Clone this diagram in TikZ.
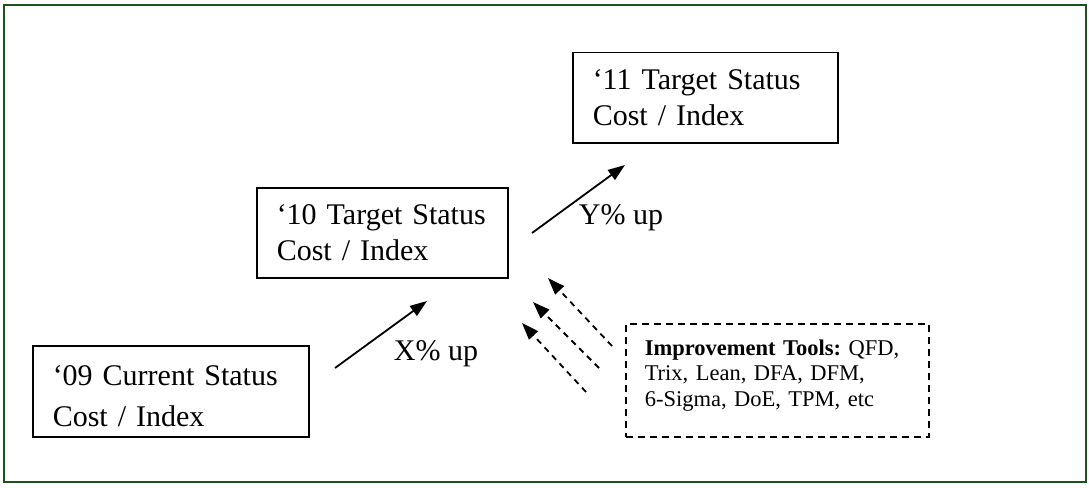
\documentclass[tikz,border=0pt]{standalone}
\usepackage{fontspec}
\setmainfont{Liberation Serif}
\frenchspacing
\usetikzlibrary{arrows.meta}
\definecolor{framegreen}{RGB}{28,80,28}
\begin{document}
\begin{tikzpicture}[x=1pt,y=-1pt]

    % Styles
    \tikzstyle{status} = [rectangle, draw=black, line width=1.5pt, anchor=north west, minimum height=90pt, inner xsep=20pt, align=left, font=\fontsize{30}{36}\selectfont]
    \tikzstyle{tools} = [rectangle, draw=black, dash pattern=on 7pt off 5pt, line width=1.5pt, anchor=north west, minimum height=113pt, inner xsep=19pt, text width=265pt, align=left, font=\fontsize{22.5}{25.5}\selectfont]
    \tikzstyle{arrow} = [line width=1.8pt, -{Triangle[length=17pt,width=12pt]}]
    \tikzstyle{toolarrow} = [arrow, dash pattern=on 6pt off 5pt]
    \tikzstyle{gain} = [font=\fontsize{30}{36}\selectfont]
    \tikzset{frame/.style={draw=framegreen, line width=2.5pt}}

    \useasboundingbox (0,0) rectangle (1089,487);
    \draw [frame] (4,5) rectangle (1086,482);

    % Nodes
    \node (cur09) [status, text width=236pt, minimum height=91pt, font=\fontsize{30}{41}\selectfont] at (32,345) {\rule{0pt}{29pt}‘09 Current Status\\Cost / Index};
    \node (tgt10) [status, text width=211pt] at (256,187) {‘10 Target Status\\Cost / Index};
    \node (tgt11) [status, text width=225pt] at (572,52) {‘11 Target Status\\Cost / Index};
    \node (tools) [tools] at (625,323) {\textbf{Improvement Tools:} QFD,\\Trix, Lean, DFA, DFM,\\6-Sigma, DoE, TPM, etc\rule[-15pt]{0pt}{15pt}};
    \node (xup) [gain] at (436,354) {X\% up};
    \node (yup) [gain] at (621,218) {Y\% up};

    % Arrow ends
    \coordinate (xfrom) at (335,368);
    \coordinate (xto) at (427,301);
    \coordinate (yfrom) at (532,233);
    \coordinate (yto) at (625,165);
    \coordinate (tfrom1) at (612,346);
    \coordinate (tto1) at (548,278);
    \coordinate (tfrom2) at (599,368);
    \coordinate (tto2) at (533,302);
    \coordinate (tfrom3) at (586,392);
    \coordinate (tto3) at (522,323);

    % Arrows
    \draw [arrow] (xfrom) -- (xto);
    \draw [arrow] (yfrom) -- (yto);
    \draw [toolarrow] (tfrom1) -- (tto1);
    \draw [toolarrow] (tfrom2) -- (tto2);
    \draw [toolarrow] (tfrom3) -- (tto3);
\end{tikzpicture}
\end{document}
